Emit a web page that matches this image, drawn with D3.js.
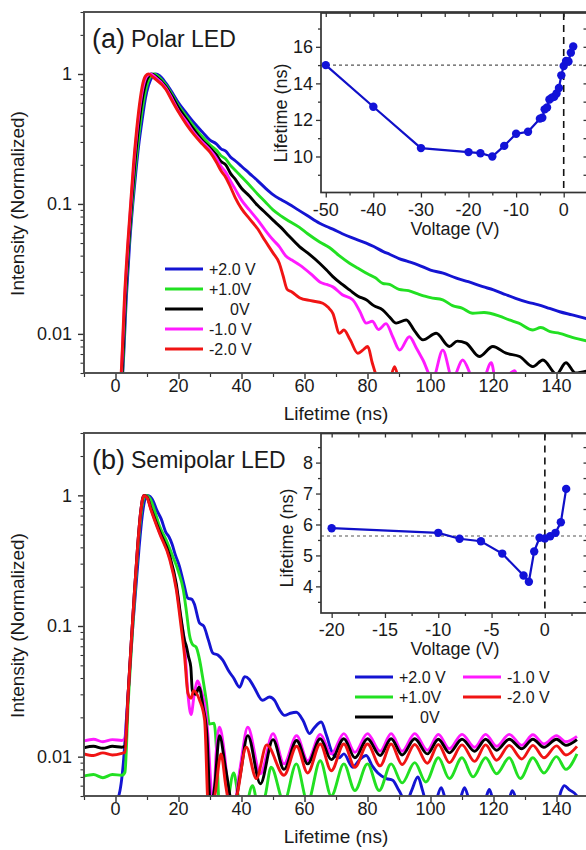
<!DOCTYPE html>
<html><head><meta charset="utf-8">
<script src="https://cdn.jsdelivr.net/npm/d3@7"></script>
<style>
body{margin:0;background:#fff}
svg{display:block}
text{font-family:'Liberation Sans',Arial,Helvetica,sans-serif;fill:#1a1a1a}
</style>
</head><body>
<svg id="chart" width="586" height="850"></svg>
<script>
// ---------- shared labels / colours ----------
const biasLabels = ["+2.0 V", "+1.0V", "0V", "-1.0 V", "-2.0 V"];
const biasColors = ["#1414d2", "#22e022", "#000000", "#ff1aff", "#f01414"];

const timeTicks = [0, 20, 40, 60, 80, 100, 120, 140];
const timeMinorTicks = [-10, 10, 30, 50, 70, 90, 110, 130, 150];
const intensityTicks = [0.01, 0.1, 1];
const intensityTickLabels = ["0.01", "0.1", "1"];
const intensityMinorTicks = [0.005, 0.006, 0.007, 0.008, 0.009, 0.02, 0.03, 0.04, 0.05, 0.06, 0.07, 0.08, 0.09,
  0.2, 0.3, 0.4, 0.5, 0.6, 0.7, 0.8, 0.9, 2, 3];

// ---------- (a) polar LED: normalized decay, [time ns, intensity] ----------
const polarPlus2 = [[1.5,0.003],[2.3,0.005],[3.5,0.02],[4.5,0.05],[5.5,0.1],[6.5,0.18],[7.5,0.3],[8.5,0.45],[9.5,0.65],[10.5,0.82],[11.5,0.94],[12.8,1.0],[14,0.97],[16,0.85],[18,0.72],[20,0.6],[22.5,0.5],[25,0.42],[27.5,0.36],[30,0.31],[32,0.29],[33.5,0.265],[35,0.255],[36.5,0.23],[38,0.215],[40,0.195],[42.5,0.172],[45,0.152],[47.5,0.133],[50,0.118],[52.5,0.108],[55,0.1],[58,0.09],[61,0.081],[64.8,0.071],[67,0.067],[69,0.064],[72,0.059],[75,0.055],[79.6,0.05],[82,0.047],[85,0.043],[87,0.041],[90,0.038],[93,0.036],[96,0.034],[100,0.031],[104,0.0293],[108,0.027],[112,0.0252],[116.6,0.0231],[120,0.0218],[124,0.02],[127,0.0188],[131,0.0175],[134,0.0168],[137.8,0.0157],[141,0.0148],[145,0.014],[150,0.013]];
const polarPlus1 = [[1.5,0.003],[2.2,0.005],[3.3,0.02],[4.3,0.05],[5.3,0.1],[6.3,0.19],[7.3,0.32],[8.3,0.5],[9.3,0.7],[10.3,0.87],[11.3,0.97],[12.2,1.0],[13.5,0.96],[16,0.82],[18,0.69],[20,0.57],[22.5,0.47],[25,0.39],[27.5,0.33],[30,0.285],[32,0.26],[33.5,0.235],[35,0.222],[36.5,0.198],[38,0.182],[40,0.162],[42.5,0.14],[45,0.12],[47.5,0.104],[50,0.09],[52.5,0.081],[55,0.074],[58.4,0.066],[61,0.059],[64.8,0.051],[68,0.046],[71,0.04],[74.3,0.035],[77,0.032],[80,0.029],[82.5,0.027],[84.8,0.0245],[87,0.024],[90,0.022],[93,0.0215],[96,0.0203],[100,0.019],[103.9,0.0183],[107,0.0165],[110,0.0158],[113.4,0.0144],[117,0.0146],[121.9,0.0137],[125,0.0128],[128,0.0121],[132.5,0.0107],[135,0.0112],[138,0.0104],[141,0.0101],[145,0.0094],[150,0.0088]];
const polarZero = [[1.5,0.003],[2.1,0.005],[3.2,0.02],[4.2,0.05],[5.1,0.1],[6.1,0.2],[7.1,0.35],[8.1,0.55],[9.1,0.76],[10.1,0.92],[11.5,1.0],[13,0.95],[16,0.8],[18,0.67],[20,0.55],[22.5,0.45],[25,0.37],[27.5,0.31],[30,0.27],[32,0.24],[33.5,0.212],[35,0.2],[36.5,0.172],[38,0.155],[40,0.132],[42.5,0.115],[45,0.098],[47.5,0.086],[50,0.075],[52.5,0.066],[55,0.057],[58.4,0.047],[61,0.042],[64.8,0.035],[67,0.031],[69,0.0276],[72,0.024],[74.3,0.0218],[77,0.0195],[79.6,0.0183],[82,0.0165],[84.8,0.0153],[87,0.0135],[89.1,0.0121],[92.3,0.0128],[95,0.0105],[97.6,0.009],[101.8,0.0101],[106,0.008],[108.5,0.0088],[111.3,0.0085],[115.5,0.0067],[119.8,0.008],[124,0.0071],[128.3,0.0067],[132.5,0.0056],[135.7,0.0063],[140,0.0049],[143,0.006],[146,0.005],[150,0.0052]];
const polarMinus1 = [[1.5,0.003],[1.9,0.005],[3.0,0.02],[4.0,0.05],[4.9,0.1],[5.9,0.21],[6.9,0.38],[7.9,0.6],[8.9,0.82],[9.9,0.96],[11,1.0],[12.5,0.95],[16,0.78],[18,0.64],[20,0.52],[22.5,0.43],[25,0.35],[27.5,0.3],[30,0.26],[32,0.225],[33.5,0.195],[35,0.175],[36.5,0.15],[38,0.13],[40,0.107],[42.5,0.09],[45,0.076],[47.5,0.063],[50,0.053],[52,0.047],[54,0.04],[56,0.037],[58.4,0.034],[62,0.029],[65,0.025],[67,0.024],[69,0.023],[72,0.02],[75.3,0.0183],[77.5,0.015],[79.6,0.0121],[81.5,0.0125],[83.5,0.0108],[85.9,0.012],[88,0.0095],[90.2,0.0075],[93.3,0.0095],[95.5,0.0078],[97.6,0.0063],[100.7,0.0045],[103.9,0.0075],[107,0.0045],[110.2,0.0063],[113.4,0.0045],[116,0.004],[119.3,0.006],[121,0.004],[126.8,0.0052],[128.5,0.004],[150,0.004]];
const polarMinus2 = [[1.5,0.004],[1.8,0.005],[2.9,0.02],[3.9,0.05],[4.8,0.1],[5.7,0.2],[6.6,0.35],[7.6,0.58],[8.7,0.85],[9.6,0.97],[10.5,1.0],[12,0.94],[16,0.76],[18,0.62],[20,0.51],[22.5,0.41],[25,0.34],[27.5,0.29],[30,0.25],[32,0.21],[33.5,0.18],[35,0.16],[36.5,0.135],[38,0.112],[40,0.092],[42.5,0.077],[45,0.065],[47.5,0.052],[50,0.042],[52,0.035],[53.2,0.028],[54.5,0.022],[56,0.021],[58.4,0.019],[62,0.018],[65.8,0.0172],[67.5,0.016],[69,0.0144],[71.1,0.0101],[72.5,0.0107],[74.5,0.009],[76.9,0.0071],[78.5,0.0075],[80.1,0.008],[81.5,0.006],[83.3,0.0045],[86.5,0.004],[88.6,0.0056],[90.5,0.004],[150,0.004]];

// ---------- (b) semipolar LED: normalized decay, [time ns, intensity] ----------
const semiPlus2 = [[-10,0.003],[0.7,0.0048],[2.5,0.009],[3.5,0.02],[4.5,0.045],[5.5,0.1],[6.5,0.2],[7.5,0.4],[8.5,0.7],[9.3,0.92],[10.2,1.0],[11,0.98],[12,0.9],[13,0.78],[14.5,0.66],[16,0.52],[17,0.48],[18,0.42],[19,0.35],[20.3,0.286],[21.5,0.22],[23,0.163],[24.2,0.16],[25,0.148],[26.7,0.105],[28,0.1],[29.5,0.078],[30.9,0.062],[32.5,0.06],[34,0.055],[36,0.045],[37.5,0.04],[39.4,0.034],[41,0.041],[42.5,0.039],[44,0.034],[46.7,0.027],[48.9,0.0286],[50.5,0.027],[52,0.023],[53.7,0.0207],[55.5,0.0215],[57.4,0.0219],[59.5,0.019],[61.6,0.015],[63,0.0165],[65.3,0.0184],[67,0.0145],[69,0.0105],[71,0.0098],[72.5,0.0105],[75.3,0.0083],[77.5,0.0095],[79.6,0.0102],[81.5,0.0085],[83.3,0.0075],[86,0.0068],[88,0.0066],[90,0.0055],[92.3,0.0045],[94,0.0055],[96,0.007],[97.5,0.0055],[99,0.0042],[101.5,0.0045],[103.4,0.0058],[105,0.0045],[107,0.004],[109.5,0.0048],[110.8,0.0058],[112.5,0.0045],[115,0.004],[117.5,0.0048],[118.7,0.0056],[120,0.0045],[122,0.004],[125,0.0048],[126,0.0055],[127.5,0.0045],[129,0.004],[132.5,0.0046],[134,0.004],[140,0.0042],[141.5,0.0055],[142.5,0.006],[144,0.0056],[146.5,0.005],[147,0.004]];
const semiPlus1 = [[-10,0.0071],[-7,0.0073],[-4,0.0069],[-1,0.0073],[2,0.0072],[3,0.0076],[4,0.025],[5,0.065],[6,0.16],[7,0.36],[8,0.68],[9,0.95],[9.8,1.0],[11,0.94],[12.5,0.75],[14,0.58],[16,0.46],[18,0.35],[20,0.26],[21.5,0.19],[22.5,0.13],[23.5,0.085],[24.5,0.072],[25.6,0.069],[26.5,0.058],[27.7,0.04],[28.8,0.027],[29.8,0.0178],[31.3,0.018],[32.2,0.01],[33,0.004],[35,0.004],[37.5,0.0075],[39,0.005],[41,0.004],[43.5,0.006],[45.5,0.004],[47.5,0.005],[49.4,0.0083],[53.5,0.0045],[57.4,0.0088],[61,0.0045],[65,0.0093],[68.5,0.005],[72.5,0.0088],[76,0.0055],[80,0.0088],[83.7,0.0055],[87.5,0.0088],[91,0.0063],[95,0.009],[98.5,0.0064],[102.5,0.0098],[106,0.0068],[110,0.0098],[113.5,0.007],[117.5,0.0098],[121,0.0074],[125,0.0098],[128.5,0.0068],[132.5,0.0098],[136,0.0075],[140,0.01],[143,0.008],[146.5,0.0105]];
const semiZero = [[-10,0.0117],[-7,0.012],[-4,0.0116],[-1,0.012],[2,0.0118],[3,0.012],[4,0.03],[5,0.075],[6,0.18],[7,0.4],[8,0.75],[9,1.0],[10,0.97],[11.3,0.79],[14,0.53],[17.1,0.35],[19.3,0.21],[20.8,0.115],[21.9,0.078],[22.5,0.07],[23.2,0.058],[23.9,0.0486],[24.4,0.032],[25.5,0.03],[26.5,0.034],[27.8,0.024],[29,0.015],[30.2,0.004],[31.5,0.006],[33,0.0145],[35,0.008],[37.5,0.004],[39.5,0.007],[42,0.0145],[46,0.0062],[50,0.0135],[53.5,0.008],[57.5,0.0133],[61,0.0088],[65,0.0137],[68.5,0.0095],[72.5,0.0137],[76,0.0098],[80,0.0137],[84,0.0102],[87.5,0.0137],[91,0.0103],[95,0.0137],[99,0.0105],[102.5,0.0136],[106,0.0107],[110,0.0136],[114,0.011],[117.5,0.0136],[121,0.0112],[125,0.0136],[129,0.0115],[132.5,0.0136],[136,0.0118],[140,0.0136],[143,0.0122],[146.5,0.0135]];
const semiMinus1 = [[-10,0.0132],[-7,0.0136],[-4,0.013],[-1,0.0135],[2,0.0133],[3,0.0138],[4,0.03],[5,0.075],[6,0.18],[7,0.4],[8,0.75],[9,1.0],[10,0.97],[11.3,0.78],[14,0.52],[17.1,0.34],[19.3,0.2],[20.8,0.111],[21.9,0.074],[23,0.03],[24,0.021],[25,0.03],[26.1,0.038],[27.2,0.032],[28.3,0.025],[29.3,0.015],[30.3,0.006],[31,0.004],[32,0.011],[33,0.0168],[34.5,0.011],[36,0.005],[37.5,0.004],[39.5,0.008],[42,0.0168],[46,0.0074],[50,0.015],[53.5,0.0088],[57.5,0.0145],[61,0.0093],[65,0.0148],[68.5,0.0105],[72.5,0.015],[76,0.0108],[80,0.015],[84,0.011],[87.5,0.015],[91,0.011],[95,0.015],[99,0.0112],[102.5,0.0148],[106,0.0115],[110,0.0148],[114,0.0118],[117.5,0.0148],[121,0.012],[125,0.0148],[129,0.0122],[132.5,0.0147],[136,0.0125],[140,0.0145],[143,0.013],[146.5,0.0143]];
const semiMinus2 = [[-10,0.0105],[-7,0.0102],[-4,0.0107],[-1,0.0103],[2,0.0106],[3,0.0108],[4,0.03],[5,0.075],[6,0.18],[7,0.4],[8,0.75],[9,1.0],[10,0.96],[11.3,0.77],[14,0.51],[17.1,0.33],[19.3,0.19],[20.8,0.1],[21.9,0.06],[23,0.0305],[24,0.028],[24.8,0.032],[26.7,0.027],[28.3,0.019],[29.5,0.004],[31.5,0.005],[33.5,0.0105],[35,0.006],[36.5,0.004],[38.5,0.005],[41.5,0.0118],[44.7,0.0068],[48,0.0123],[53.5,0.0072],[57.5,0.012],[61,0.0075],[65,0.0125],[68.5,0.0078],[72.5,0.0125],[76,0.0083],[80,0.0125],[84,0.0085],[87.5,0.0125],[91,0.0087],[95,0.0124],[99,0.0089],[102.5,0.0124],[106,0.009],[110,0.0123],[114,0.0092],[117.5,0.0123],[121,0.0094],[125,0.0122],[129,0.0096],[132.5,0.0122],[136,0.0098],[140,0.0121],[143,0.0103],[146.5,0.012]];

// ---------- insets: carrier lifetime vs bias ----------
const polarVoltage  = [-50, -40, -30, -20, -17.5, -15, -12.5, -10, -7.5, -5, -4.5, -4, -3.5, -3, -2.5, -2, -1.5, -1, -0.5, 0, 0.5, 1, 1.5, 2];
const polarLifetime = [15.0, 12.72, 10.46, 10.24, 10.18, 10.0, 10.58, 11.24, 11.35, 12.07, 12.12, 12.58, 12.68, 13.12, 13.22, 13.27, 13.45, 13.75, 14.44, 14.95, 15.22, 15.2, 15.68, 16.02];
const polarReference = 15.0;
const polarVoltTicks = [-50, -40, -30, -20, -10, 0];
const polarVoltMinor = [-45, -35, -25, -15, -5, 5];
const polarLifeTicks = [10, 12, 14, 16];
const polarLifeMinor = [9, 11, 13, 15, 17];

const semiVoltage  = [-20, -10, -8, -6, -4, -2, -1.5, -1, -0.5, 0, 0.5, 1, 1.5, 2];
const semiLifetime = [5.88, 5.73, 5.54, 5.46, 5.06, 4.35, 4.15, 5.13, 5.57, 5.55, 5.62, 5.73, 6.07, 7.15];
const semiReference = 5.63;
const semiVoltTicks = [-20, -15, -10, -5, 0];
const semiVoltMinor = [-17.5, -12.5, -7.5, -2.5, 2.5];
const semiLifeTicks = [4, 5, 6, 7, 8];
const semiLifeMinor = [3.5, 4.5, 5.5, 6.5, 7.5, 8.5];

// ---------- drawing ----------
const svg = d3.select("#chart");
const AXIS = "#333";

function styleAxis(g, w) {
  g.select(".domain").remove();
  g.selectAll("line").attr("stroke", AXIS).attr("stroke-width", w || 1.3);
}

function drawDecayPanel(o) {
  const x = d3.scaleLinear([-10, 150], [84, 588]);
  const y = d3.scaleLog([0.005, 3], [o.bottom, o.top]);
  const g = svg.append("g");

  const clipId = "clip" + o.key;
  svg.append("clipPath").attr("id", clipId).append("rect")
    .attr("x", 84).attr("y", o.top).attr("width", 504).attr("height", o.bottom - o.top);

  const line = d3.line().x(d => x(d[0])).y(d => y(Math.max(d[1], 0.0008))).curve(d3.curveMonotoneX);
  const curves = g.append("g").attr("clip-path", `url(#${clipId})`);
  o.order.forEach(i => {
    curves.append("path").datum(o.series[i]).attr("d", line)
      .attr("fill", "none").attr("stroke", biasColors[i]).attr("stroke-width", 2.9)
      .attr("stroke-linejoin", "round");
  });

  // axes (ticks only), labels drawn separately
  g.append("g").attr("transform", `translate(0,${o.bottom})`)
    .call(d3.axisBottom(x).tickValues(timeTicks).tickSize(6).tickFormat(""))
    .call(a => styleAxis(a, 1.4));
  g.append("g").attr("transform", `translate(0,${o.bottom})`)
    .call(d3.axisBottom(x).tickValues(timeMinorTicks).tickSize(4).tickFormat(""))
    .call(a => styleAxis(a, 1.2));
  g.append("g").attr("transform", "translate(84,0)")
    .call(d3.axisLeft(y).tickValues(intensityTicks).tickSize(6).tickFormat(""))
    .call(a => styleAxis(a, 1.4));
  g.append("g").attr("transform", "translate(84,0)")
    .call(d3.axisLeft(y).tickValues(intensityMinorTicks).tickSize(3.5).tickFormat(""))
    .call(a => styleAxis(a, 1.1));

  g.append("rect").attr("x", 84).attr("y", o.top).attr("width", 504).attr("height", o.bottom - o.top)
    .attr("fill", "none").attr("stroke", "#4a4a4a").attr("stroke-width", 1.9);

  g.selectAll(".xl").data(timeTicks).join("text")
    .attr("x", d => x(d)).attr("y", o.bottom + 19).attr("text-anchor", "middle")
    .attr("font-size", 18).text(d => d);
  g.selectAll(".yl").data(intensityTicks).join("text")
    .attr("x", 72).attr("y", d => y(d)).attr("dy", "0.36em").attr("text-anchor", "end")
    .attr("font-size", 18).text((d, i) => intensityTickLabels[i]);

  g.append("text").attr("x", 336).attr("y", o.bottom + 47).attr("text-anchor", "middle")
    .attr("font-size", 19).text("Lifetime (ns)");
  g.append("text").attr("transform", `translate(24,${(o.top + o.bottom) / 2 + 11}) rotate(-90)`)
    .attr("text-anchor", "middle").attr("font-size", 19).text("Intensity (Normalized)");

  g.append("text").attr("x", 92).attr("y", o.top + 36).attr("font-size", 27).text(o.tag);
  g.append("text").attr("x", 131).attr("y", o.top + 35).attr("font-size", 23).text(o.title);

  // legend
  const lg = g.append("g");
  o.legend.forEach(e => {
    lg.append("line").attr("x1", e.x).attr("x2", e.x + 38).attr("y1", e.y).attr("y2", e.y)
      .attr("stroke", biasColors[e.i]).attr("stroke-width", 2.8);
    lg.append("text").attr("x", e.x + (e.i === 2 ? e.zeroShift : 44)).attr("y", e.y).attr("dy", "0.36em")
      .attr("font-size", 16).text(biasLabels[e.i]);
  });
}

function drawInset(o) {
  const x = d3.scaleLinear(o.xDomain, [321, 587.5]);
  const y = d3.scaleLinear(o.yDomain, [o.bottom, o.top]);
  const g = svg.append("g");
  g.append("rect").attr("x", 321).attr("y", o.top).attr("width", 266.5).attr("height", o.bottom - o.top)
    .attr("fill", "#fff");

  // reference lines
  g.append("line").attr("x1", 321).attr("x2", 587.5).attr("y1", y(o.ref)).attr("y2", y(o.ref))
    .attr("stroke", "#555").attr("stroke-width", 1.1).attr("stroke-dasharray", "3,3");
  g.append("line").attr("x1", x(0)).attr("x2", x(0)).attr("y1", o.top).attr("y2", o.bottom)
    .attr("stroke", "#111").attr("stroke-width", 1.6).attr("stroke-dasharray", "7,5");

  const pts = o.volt.map((v, i) => [v, o.life[i]]);
  g.append("path").datum(pts)
    .attr("d", d3.line().x(d => x(d[0])).y(d => y(d[1])))
    .attr("fill", "none").attr("stroke", "#1010c8").attr("stroke-width", 2.2);
  g.selectAll(".dot").data(pts).join("circle")
    .attr("cx", d => x(d[0])).attr("cy", d => y(d[1])).attr("r", 4.2).attr("fill", "#1212d8");

  const allX = o.xTicks.concat(o.xMinor);
  const allY = o.yTicks.concat(o.yMinor);
  g.append("g").attr("transform", `translate(0,${o.bottom})`)
    .call(d3.axisBottom(x).tickValues(o.xTicks).tickSize(5).tickFormat("")).call(a => styleAxis(a));
  g.append("g").attr("transform", `translate(0,${o.bottom})`)
    .call(d3.axisBottom(x).tickValues(o.xMinor).tickSize(3).tickFormat("")).call(a => styleAxis(a));
  g.append("g").attr("transform", `translate(0,${o.top})`)
    .call(d3.axisTop(x).tickValues(allX).tickSize(-4).tickFormat("")).call(a => styleAxis(a));
  g.append("g").attr("transform", "translate(321,0)")
    .call(d3.axisLeft(y).tickValues(o.yTicks).tickSize(5).tickFormat("")).call(a => styleAxis(a));
  g.append("g").attr("transform", "translate(321,0)")
    .call(d3.axisLeft(y).tickValues(o.yMinor).tickSize(3).tickFormat("")).call(a => styleAxis(a));
  g.append("g").attr("transform", "translate(587.5,0)")
    .call(d3.axisRight(y).tickValues(allY).tickSize(-4).tickFormat("")).call(a => styleAxis(a));

  g.append("rect").attr("x", 321).attr("y", o.top).attr("width", 266.5).attr("height", o.bottom - o.top)
    .attr("fill", "none").attr("stroke", "#333").attr("stroke-width", 1.7);

  g.selectAll(".ixl").data(o.xTicks).join("text")
    .attr("x", d => x(d)).attr("y", o.bottom + 23).attr("text-anchor", "middle")
    .attr("font-size", 18).text(d => String(d));
  g.selectAll(".iyl").data(o.yTicks).join("text")
    .attr("x", 313).attr("y", d => y(d)).attr("dy", "0.36em").attr("text-anchor", "end")
    .attr("font-size", 18).text(d => String(d));
  g.append("text").attr("x", 455).attr("y", o.bottom + 42).attr("text-anchor", "middle")
    .attr("font-size", 18).text("Voltage (V)");
  g.append("text").attr("transform", `translate(${o.titleX},${o.titleY}) rotate(-90)`)
    .attr("text-anchor", "middle").attr("font-size", 18).text("Lifetime (ns)");
}

drawDecayPanel({
  key: "a", top: 12, bottom: 373, tag: "(a)", title: "Polar LED",
  series: [polarPlus2, polarPlus1, polarZero, polarMinus1, polarMinus2],
  order: [0, 1, 2, 3, 4],
  legend: [0, 1, 2, 3, 4].map(i => ({ i, x: 165, y: 269 + 20 * i, zeroShift: 65 }))
});
drawDecayPanel({
  key: "b", top: 433, bottom: 796, tag: "(b)", title: "Semipolar LED",
  series: [semiPlus2, semiPlus1, semiZero, semiMinus1, semiMinus2],
  order: [0, 1, 3, 2, 4],
  legend: [
    { i: 0, x: 355, y: 677, zeroShift: 65 }, { i: 1, x: 355, y: 697, zeroShift: 65 },
    { i: 2, x: 355, y: 717, zeroShift: 65 },
    { i: 3, x: 463, y: 677, zeroShift: 65 }, { i: 4, x: 463, y: 697, zeroShift: 65 }
  ]
});

drawInset({
  top: 13, bottom: 192.5, xDomain: [-51, 5], yDomain: [8.03, 17.85],
  volt: polarVoltage, life: polarLifetime, ref: polarReference,
  xTicks: polarVoltTicks, xMinor: polarVoltMinor, yTicks: polarLifeTicks, yMinor: polarLifeMinor,
  titleX: 287, titleY: 113
});
drawInset({
  top: 433.5, bottom: 613, xDomain: [-21, 4], yDomain: [3.14, 8.94],
  volt: semiVoltage, life: semiLifetime, ref: semiReference,
  xTicks: semiVoltTicks, xMinor: semiVoltMinor, yTicks: semiLifeTicks, yMinor: semiLifeMinor,
  titleX: 293, titleY: 538
});
</script>
</body></html>
